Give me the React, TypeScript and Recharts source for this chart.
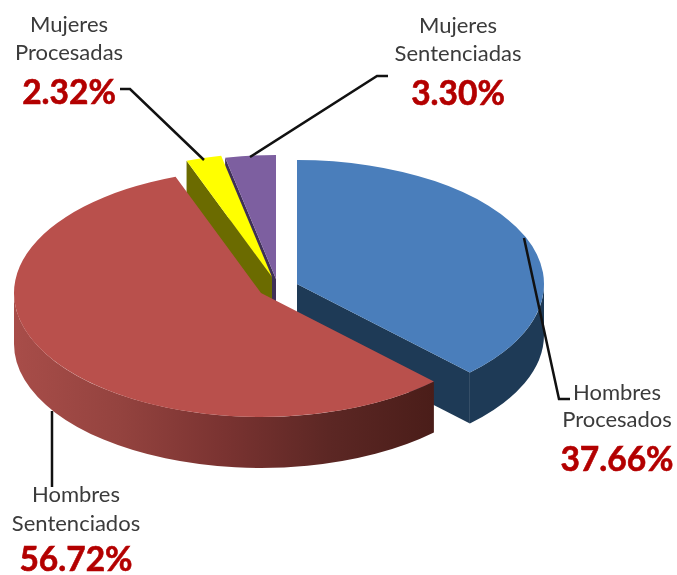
import { PieChart, Pie } from 'recharts';

const sliceNames = ['Hombres Procesados', 'Hombres Sentenciados', 'Mujeres Procesadas', 'Mujeres Sentenciadas'];
const sliceValues = [37.66, 56.72, 2.32, 3.3];
const chartData = sliceNames.map((name, i) => ({ name, value: sliceValues[i] }));

// look of each slice, same order as sliceNames
const topColors = ['#4a7ebb', '#b9504c', '#ffff00', '#7d5fa0'];
const wallColors = ['#1e3a56', 'url(#redWall)', '#6b6b00', '#3f3057'];
const explode = [
  { dx: 36, dy: -9 },
  { dx: 0, dy: 0 },
  { dx: 11, dy: -16 },
  { dx: 15, dy: -14 },
];

const RX = 247;
const RY = 124;
const DEPTH = 51;
const CX = 261;
const CY = 293;

const labelLayout = [
  { x: 617, y: [400, 427], valueY: 471 },
  { x: 76, y: [502, 531], valueY: 571 },
  { x: 69, y: [32, 60], valueY: 104 },
  { x: 458, y: [33, 61], valueY: 105 },
];
const leaderLines = [
  '570,399 559,399 524,238',
  '52,411 52,487',
  '120,89 130,89 204,160',
  '388,76 377,76 250,157',
];

const RAD = Math.PI / 180;
const pt = (cx: number, cy: number, deg: number, drop = 0) =>
  `${cx + RX * Math.cos(deg * RAD)},${cy - RY * Math.sin(deg * RAD) + drop}`;

const TopFace = (props: any) => {
  const { cx, cy, startAngle, endAngle, index } = props;
  const ox = cx + explode[index].dx;
  const oy = cy + explode[index].dy;
  const large = startAngle - endAngle > 180 ? 1 : 0;
  const d = `M${ox},${oy} L${pt(ox, oy, startAngle)} A${RX},${RY} 0 ${large} 1 ${pt(ox, oy, endAngle)} Z`;
  return <path d={d} fill={topColors[index]} stroke="none" />;
};

const Walls = (props: any) => {
  const { cx, cy, startAngle, endAngle, index } = props;
  const ox = cx + explode[index].dx;
  const oy = cy + explode[index].dy;
  const fill = wallColors[index];
  const parts: string[] = [];
  // cut faces, only the ones turned towards the viewer
  const face = (deg: number) =>
    `M${ox},${oy} L${pt(ox, oy, deg)} L${pt(ox, oy, deg, DEPTH)} L${ox},${oy + DEPTH} Z`;
  if (Math.cos(startAngle * RAD) < -0.001) parts.push(face(startAngle));
  if (Math.cos(endAngle * RAD) > 0.001) parts.push(face(endAngle));
  // outer rim, front half of the ellipse
  const a0 = Math.min(startAngle, 0);
  const a1 = Math.max(endAngle, -180);
  if (a0 > a1) {
    parts.push(
      `M${pt(ox, oy, a0)} A${RX},${RY} 0 0 1 ${pt(ox, oy, a1)} L${pt(ox, oy, a1, DEPTH)} A${RX},${RY} 0 0 0 ${pt(ox, oy, a0, DEPTH)} Z`
    );
  }
  return (
    <g>
      {index === 1 && (
        <defs>
          <linearGradient id="redWall" gradientUnits="userSpaceOnUse" x1="14" y1="0" x2="434" y2="0">
            <stop offset="0%" stopColor="#a84d49" />
            <stop offset="25%" stopColor="#94433f" />
            <stop offset="50%" stopColor="#7a3331" />
            <stop offset="75%" stopColor="#5c2724" />
            <stop offset="100%" stopColor="#4a1d19" />
          </linearGradient>
        </defs>
      )}
      {parts.map((d, i) => (
        <path key={i} d={d} fill={fill} stroke="none" />
      ))}
    </g>
  );
};

const renderLabel = (props: any) => {
  const { index, name, value } = props;
  const pos = labelLayout[index];
  const words = String(name).split(' ');
  return (
    <g style={{ fontFamily: 'Lato, sans-serif' }}>
      {words.map((w, i) => (
        <text key={w} x={pos.x} y={pos.y[i]} textAnchor="middle" fontSize={22} fill="#3b3b3b">
          {w}
        </text>
      ))}
      <text
        x={pos.x}
        y={pos.valueY}
        textAnchor="middle"
        fontSize={33.5}
        fontWeight={700}
        fill="#b30000"
        stroke="#b30000"
        strokeWidth={0.6}
      >
        {`${Number(value).toFixed(2)}%`}
      </text>
    </g>
  );
};

const renderLeader = (props: any) => (
  <polyline points={leaderLines[props.index]} fill="none" stroke="#111" strokeWidth={2.5} />
);

const pieProps = {
  data: chartData,
  dataKey: 'value',
  nameKey: 'name',
  cx: CX,
  cy: CY,
  outerRadius: RX,
  startAngle: 90,
  endAngle: -270,
  stroke: 'none',
  isAnimationActive: false,
};

export default function App() {
  return (
    <div style={{ position: 'absolute', left: 0, top: 0, width: 677, height: 575, background: '#fff', filter: 'blur(0.5px)' }}>
      <PieChart width={677} height={575} margin={{ top: 0, right: 0, bottom: 0, left: 0 }}>
        {/* purple wall goes first so the olive one can cover it */}
        <Pie {...pieProps} shape={(p: any) => (p.index === 3 ? <Walls {...p} /> : <g />)} />
        <Pie {...pieProps} shape={(p: any) => (p.index !== 3 ? <Walls {...p} /> : <g />)} />
        <Pie {...pieProps} shape={(p: any) => <TopFace {...p} />} label={renderLabel} labelLine={renderLeader} />
      </PieChart>
    </div>
  );
}
